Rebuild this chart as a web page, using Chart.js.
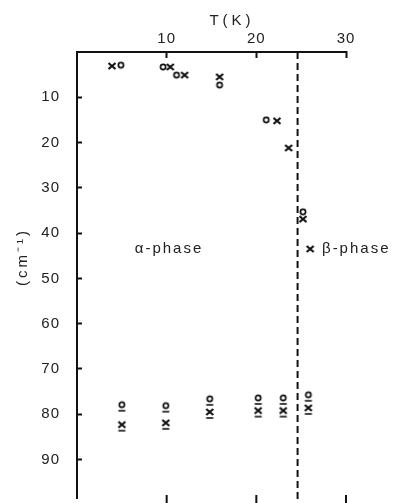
<!DOCTYPE html>
<html><head><meta charset="utf-8">
<script src="https://cdn.jsdelivr.net/npm/chart.js@4/dist/chart.umd.min.js"></script>
<style>html,body{margin:0;padding:0;background:#fff}#wrap{width:405px;height:503px}</style>
</head><body><div id="wrap"><canvas id="c" width="405" height="503"></canvas></div>
<script>
// ---- data ----
const xTicks = [10, 20, 30];
const yTicks = [10, 20, 30, 40, 50, 60, 70, 80, 90];
const crossT = [3.9, 10.4, 12.0, 15.9, 22.3, 23.6, 25.2, 26.0];
const crossF = [3.1, 3.3, 5.1, 5.5, 15.2, 21.2, 36.9, 43.5];
const circleT = [4.9, 9.6, 11.1, 15.9, 21.1, 25.2];
const circleF = [2.9, 3.3, 5.1, 7.3, 15.0, 35.3];
const lowT = [5.0, 9.9, 14.8, 20.2, 23.0, 25.8];
const lowCircleF = [77.9, 78.1, 76.6, 76.4, 76.4, 75.7];
const lowCrossF = [82.3, 81.9, 79.5, 79.2, 79.2, 78.6];
const boundaryT = 24.6;
const yRange = [0, 98.5];
const xRange = [0, 30];

const ink = '#111';
function glyph(kind, bar) {
  const w = 10, h = bar ? 18 : 10;
  const c = document.createElement('canvas');
  c.width = w; c.height = h;
  const g = c.getContext('2d');
  g.strokeStyle = ink; g.lineCap = 'butt';
  const cx = w / 2, cy = h / 2;
  if (kind === 'x') {
    g.lineWidth = 2.2;
    g.beginPath();
    g.moveTo(cx - 3.5, cy - 3); g.lineTo(cx + 3.5, cy + 3);
    g.moveTo(cx + 3.5, cy - 3); g.lineTo(cx - 3.5, cy + 3);
    g.stroke();
  } else {
    g.lineWidth = 1.7;
    g.beginPath(); g.arc(cx, cy, 2.6, 0, Math.PI * 2); g.stroke();
  }
  if (bar) {
    g.lineWidth = 1.6;
    g.beginPath(); g.moveTo(cx - 3.5, cy + 6); g.lineTo(cx + 3.5, cy + 6); g.stroke();
  }
  return c;
}
const pts = (xs, ys) => xs.map((x, i) => ({x, y: ys[i]}));
const font = {family: '"Liberation Sans", Arial, sans-serif', size: 15};

const textPlugin = {
  id: 'annot',
  beforeUpdate(chart) { chart.ctx.letterSpacing = '1px'; },
  beforeDraw(chart) { chart.ctx.letterSpacing = '1px'; },
  afterDraw(chart) {
    const ctx = chart.ctx;
    const xs = chart.scales.x, area = chart.chartArea;
    ctx.save();
    // bottom axis tick marks (through the x scale), axis line just below the picture
    ctx.strokeStyle = ink; ctx.lineWidth = 2;
    ctx.beginPath();
    xTicks.forEach(v => { const p = xs.getPixelForValue(v); ctx.moveTo(p, area.bottom + 6); ctx.lineTo(p, area.bottom - 3); });
    ctx.stroke();
    ctx.fillStyle = '#222';
    ctx.font = '15px "Liberation Sans", Arial, sans-serif';
    ctx.textBaseline = 'middle';
    ctx.textAlign = 'center';
    ctx.letterSpacing = '4px';
    ctx.fillText('T(K)', 232, 21);
    ctx.letterSpacing = '2px';
    ctx.fillText('\u03b1-phase', 169, 249);
    ctx.textAlign = 'left';
    ctx.fillText('\u03b2-phase', 322, 249);
    ctx.translate(23, 257);
    ctx.rotate(-Math.PI / 2);
    ctx.textAlign = 'center';
    ctx.letterSpacing = '3px';
    ctx.fillText('(cm\u207b\u00b9)', 0, 0);
    ctx.restore();
  }
};

new Chart(document.getElementById('c'), {
  type: 'scatter',
  data: {
    datasets: [
      {data: pts(crossT, crossF), pointStyle: glyph('x', false), clip: false},
      {data: pts(circleT, circleF), pointStyle: glyph('o', false), clip: false},
      {data: pts(lowT, lowCircleF), pointStyle: glyph('o', true), clip: false},
      {data: pts(lowT, lowCrossF), pointStyle: glyph('x', true), clip: false},
      {type: 'line', data: [{x: boundaryT, y: 0}, {x: boundaryT, y: 100}],
       borderColor: ink, borderWidth: 2, borderDash: [7, 4], pointRadius: 0, clip: false}
    ]
  },
  options: {
    responsive: false, animation: false, devicePixelRatio: 1,
    layout: {padding: {left: 0, right: 59, top: 0, bottom: 0}},
    plugins: {legend: {display: false}, tooltip: {enabled: false}},
    scales: {
      x: {
        type: 'linear', position: 'top', min: xRange[0], max: xRange[1],
        afterBuildTicks: s => { s.ticks = xTicks.map(v => ({value: v})); },
        afterFit: s => { s.height = 52; s.paddingLeft = 0; s.paddingRight = 0; },
        border: {display: true, color: ink, width: 2},
        grid: {drawOnChartArea: false, tickLength: -6, color: ink, tickWidth: 2},
        ticks: {padding: 10, color: '#222', font, maxRotation: 0}
      },
      y: {
        type: 'linear', position: 'left', reverse: true, min: yRange[0], max: yRange[1],
        afterBuildTicks: s => { s.ticks = yTicks.map(v => ({value: v})); },
        afterFit: s => { s.width = 77; s.paddingTop = 0; s.paddingBottom = 0; },
        border: {display: true, color: ink, width: 2},
        grid: {drawOnChartArea: false, tickLength: -5, color: ink, tickWidth: 2},
        ticks: {padding: 22, color: '#222', font}
      }
    }
  },
  plugins: [textPlugin]
});
</script></body></html>
